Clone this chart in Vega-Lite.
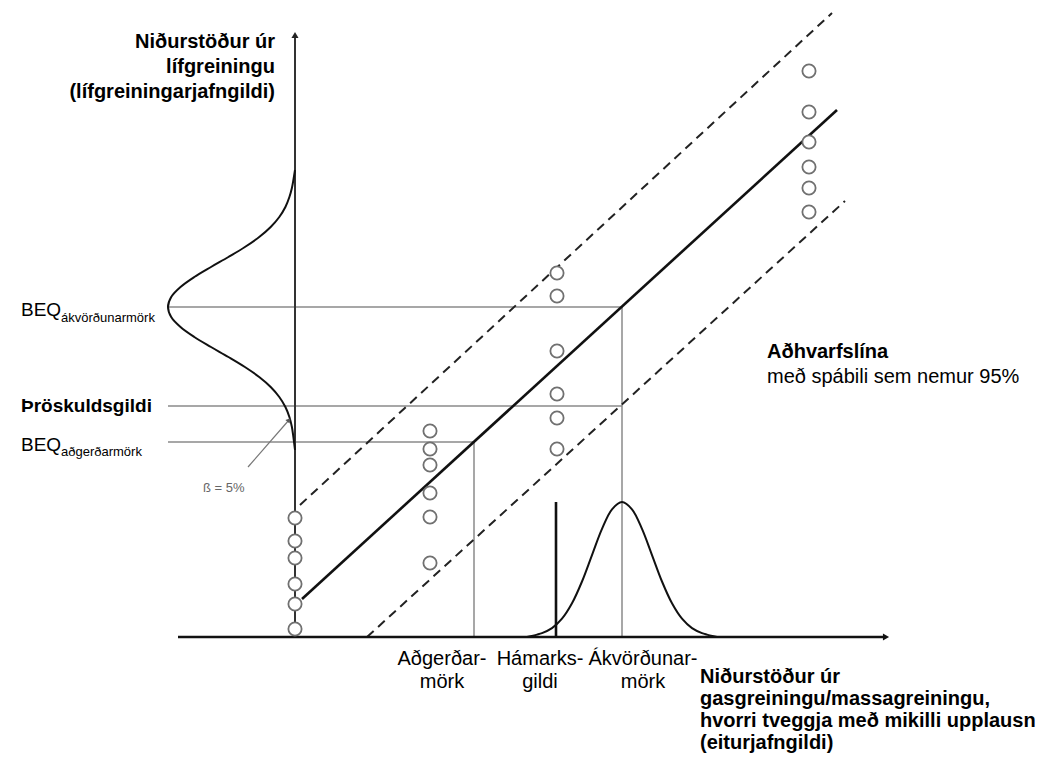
{
  "$schema": "https://vega.github.io/schema/vega-lite/v6.json",
  "width": 1063,
  "height": 758,
  "autosize": {"type": "fit", "contains": "padding"},
  "padding": 0,
  "background": "white",
  "config": {"view": {"stroke": null}, "text": {"font": "Liberation Sans"}},
  "encoding": {
    "x": {"field": "x", "type": "quantitative", "scale": {"domain": [0, 1063], "nice": false, "zero": false}, "axis": null},
    "y": {"field": "y", "type": "quantitative", "scale": {"domain": [0, 758], "reverse": true, "nice": false, "zero": false}, "axis": null}
  },
  "layer": [
    {
      "data": {"values": [
        {"x": 168, "y": 307, "x2": 622, "y2": 307},
        {"x": 168, "y": 406, "x2": 622, "y2": 406},
        {"x": 168, "y": 442, "x2": 474, "y2": 442},
        {"x": 622, "y": 307, "x2": 622, "y2": 637},
        {"x": 474, "y": 442, "x2": 474, "y2": 637}
      ]},
      "mark": {"type": "rule", "color": "#8a8a8a", "strokeWidth": 1.5},
      "encoding": {"x2": {"field": "x2"}, "y2": {"field": "y2"}}
    },
    {
      "data": {"values": [{"x": 248, "y": 467, "x2": 289, "y2": 420}]},
      "mark": {"type": "rule", "color": "#777777", "strokeWidth": 1.2},
      "encoding": {"x2": {"field": "x2"}, "y2": {"field": "y2"}}
    },
    {
      "data": {"values": [
        {"x": 300, "y": 505, "x2": 832, "y2": 13},
        {"x": 367, "y": 637, "x2": 845, "y2": 201}
      ]},
      "mark": {"type": "rule", "color": "#222222", "strokeWidth": 2, "strokeDash": [9, 6]},
      "encoding": {"x2": {"field": "x2"}, "y2": {"field": "y2"}}
    },
    {
      "data": {"values": [{"x": 295, "y": 637, "x2": 295, "y2": 36}]},
      "mark": {"type": "rule", "color": "#333333", "strokeWidth": 2},
      "encoding": {"x2": {"field": "x2"}, "y2": {"field": "y2"}}
    },
    {
      "data": {"values": [
        {"x": 178, "y": 637, "x2": 884, "y2": 637},
        {"x": 302, "y": 599, "x2": 837, "y2": 110},
        {"x": 556, "y": 502, "x2": 556, "y2": 637}
      ]},
      "mark": {"type": "rule", "color": "#111111", "strokeWidth": 2.6},
      "encoding": {"x2": {"field": "x2"}, "y2": {"field": "y2"}}
    },
    {
      "data": {"values": [
        {"c": "L", "i": 0, "x": 295, "y": 170},
        {"c": "L", "i": 1, "x": 293.4, "y": 180},
        {"c": "L", "i": 2, "x": 291.9, "y": 188},
        {"c": "L", "i": 3, "x": 289.4, "y": 197},
        {"c": "L", "i": 4, "x": 285.4, "y": 207},
        {"c": "L", "i": 5, "x": 279.3, "y": 217},
        {"c": "L", "i": 6, "x": 270.7, "y": 227},
        {"c": "L", "i": 7, "x": 259.2, "y": 237},
        {"c": "L", "i": 8, "x": 244.9, "y": 247},
        {"c": "L", "i": 9, "x": 228.4, "y": 257},
        {"c": "L", "i": 10, "x": 211.0, "y": 267},
        {"c": "L", "i": 11, "x": 194.3, "y": 277},
        {"c": "L", "i": 12, "x": 180.5, "y": 287},
        {"c": "L", "i": 13, "x": 171.2, "y": 297},
        {"c": "L", "i": 14, "x": 168, "y": 307},
        {"c": "L", "i": 15, "x": 171.2, "y": 317},
        {"c": "L", "i": 16, "x": 180.5, "y": 327},
        {"c": "L", "i": 17, "x": 194.3, "y": 337},
        {"c": "L", "i": 18, "x": 211.0, "y": 347},
        {"c": "L", "i": 19, "x": 228.4, "y": 357},
        {"c": "L", "i": 20, "x": 244.9, "y": 367},
        {"c": "L", "i": 21, "x": 259.2, "y": 377},
        {"c": "L", "i": 22, "x": 270.7, "y": 387},
        {"c": "L", "i": 23, "x": 279.3, "y": 397},
        {"c": "L", "i": 24, "x": 285.4, "y": 407},
        {"c": "L", "i": 25, "x": 289.4, "y": 417},
        {"c": "L", "i": 26, "x": 291.9, "y": 427},
        {"c": "L", "i": 27, "x": 293.4, "y": 437},
        {"c": "L", "i": 28, "x": 295, "y": 450},
        {"c": "B", "i": 0, "x": 527, "y": 637},
        {"c": "B", "i": 1, "x": 537, "y": 634.6},
        {"c": "B", "i": 2, "x": 542, "y": 633.1},
        {"c": "B", "i": 3, "x": 552, "y": 628.1},
        {"c": "B", "i": 4, "x": 562, "y": 618.7},
        {"c": "B", "i": 5, "x": 572, "y": 603.3},
        {"c": "B", "i": 6, "x": 582, "y": 581.5},
        {"c": "B", "i": 7, "x": 592, "y": 555.1},
        {"c": "B", "i": 8, "x": 602, "y": 528.9},
        {"c": "B", "i": 9, "x": 612, "y": 509.3},
        {"c": "B", "i": 10, "x": 622, "y": 502},
        {"c": "B", "i": 11, "x": 632, "y": 509.3},
        {"c": "B", "i": 12, "x": 642, "y": 528.9},
        {"c": "B", "i": 13, "x": 652, "y": 555.1},
        {"c": "B", "i": 14, "x": 662, "y": 581.5},
        {"c": "B", "i": 15, "x": 672, "y": 603.3},
        {"c": "B", "i": 16, "x": 682, "y": 618.7},
        {"c": "B", "i": 17, "x": 692, "y": 628.1},
        {"c": "B", "i": 18, "x": 702, "y": 633.1},
        {"c": "B", "i": 19, "x": 707, "y": 634.6},
        {"c": "B", "i": 20, "x": 717, "y": 637}
      ]},
      "mark": {"type": "line", "interpolate": "catmull-rom", "color": "#111111", "strokeWidth": 2},
      "encoding": {"detail": {"field": "c"}, "order": {"field": "i", "type": "quantitative"}}
    },
    {
      "data": {"values": [{"x": 295, "y": 35}]},
      "mark": {"type": "point", "shape": "triangle-up", "filled": true, "color": "#222222", "size": 50, "opacity": 1}
    },
    {
      "data": {"values": [{"x": 886, "y": 637}]},
      "mark": {"type": "point", "shape": "triangle-right", "filled": true, "color": "#111111", "size": 50, "opacity": 1}
    },
    {
      "data": {"values": [{"x": 289, "y": 420}]},
      "mark": {"type": "point", "shape": "triangle-up", "filled": true, "color": "#555555", "size": 30, "angle": 41, "opacity": 1}
    },
    {
      "data": {"values": [
        {"x": 295, "y": 518}, {"x": 295, "y": 541}, {"x": 295, "y": 558}, {"x": 295, "y": 584}, {"x": 295, "y": 604}, {"x": 295, "y": 629},
        {"x": 430, "y": 431}, {"x": 430, "y": 449}, {"x": 430, "y": 465}, {"x": 430, "y": 493}, {"x": 430, "y": 517}, {"x": 430, "y": 563},
        {"x": 557, "y": 273}, {"x": 557, "y": 296}, {"x": 557, "y": 351}, {"x": 557, "y": 394}, {"x": 557, "y": 418}, {"x": 557, "y": 449},
        {"x": 809, "y": 71}, {"x": 809, "y": 112}, {"x": 809, "y": 142}, {"x": 809, "y": 167}, {"x": 809, "y": 188}, {"x": 809, "y": 212}
      ]},
      "mark": {"type": "point", "shape": "circle", "filled": true, "fill": "white", "stroke": "#707070", "strokeWidth": 1.8, "size": 175, "opacity": 1, "fillOpacity": 1}
    },
    {
      "data": {"values": [
        {"x": 275, "y": 48, "t": "Niðurstöður úr"},
        {"x": 275, "y": 73, "t": "lífgreiningu"},
        {"x": 275, "y": 98, "t": "(lífgreiningarjafngildi)"}
      ]},
      "mark": {"type": "text", "align": "right", "baseline": "alphabetic", "fontSize": 20, "fontWeight": "bold", "color": "#000000"},
      "encoding": {"text": {"field": "t"}}
    },
    {
      "data": {"values": [
        {"x": 767, "y": 358, "t": "Aðhvarfslína"},
        {"x": 700, "y": 683, "t": "Niðurstöður úr"},
        {"x": 700, "y": 705, "t": "gasgreiningu/massagreiningu,"},
        {"x": 700, "y": 727, "t": "hvorri tveggja með mikilli upplausn"},
        {"x": 700, "y": 749, "t": "(eiturjafngildi)"}
      ]},
      "mark": {"type": "text", "align": "left", "baseline": "alphabetic", "fontSize": 20, "fontWeight": "bold", "color": "#000000"},
      "encoding": {"text": {"field": "t"}}
    },
    {
      "data": {"values": [
        {"x": 21, "y": 412, "t": "Þröskuldsgildi"}
      ]},
      "mark": {"type": "text", "align": "left", "baseline": "alphabetic", "fontSize": 19, "fontWeight": "bold", "color": "#000000"},
      "encoding": {"text": {"field": "t"}}
    },
    {
      "data": {"values": [
        {"x": 767, "y": 383, "t": "með spábili sem nemur 95%"}
      ]},
      "mark": {"type": "text", "align": "left", "baseline": "alphabetic", "fontSize": 20, "color": "#000000"},
      "encoding": {"text": {"field": "t"}}
    },
    {
      "data": {"values": [
        {"x": 442, "y": 665, "t": "Aðgerðar-"},
        {"x": 442, "y": 688, "t": "mörk"},
        {"x": 540, "y": 665, "t": "Hámarks-"},
        {"x": 540, "y": 688, "t": "gildi"},
        {"x": 643, "y": 665, "t": "Ákvörðunar-"},
        {"x": 643, "y": 688, "t": "mörk"}
      ]},
      "mark": {"type": "text", "align": "center", "baseline": "alphabetic", "fontSize": 20, "color": "#000000"},
      "encoding": {"text": {"field": "t"}}
    },
    {
      "data": {"values": [
        {"x": 21, "y": 316, "t": "BEQ"},
        {"x": 21, "y": 451, "t": "BEQ"}
      ]},
      "mark": {"type": "text", "align": "left", "baseline": "alphabetic", "fontSize": 19, "color": "#000000"},
      "encoding": {"text": {"field": "t"}}
    },
    {
      "data": {"values": [
        {"x": 61, "y": 322, "t": "ákvörðunarmörk"},
        {"x": 61, "y": 456, "t": "aðgerðarmörk"}
      ]},
      "mark": {"type": "text", "align": "left", "baseline": "alphabetic", "fontSize": 13, "color": "#000000"},
      "encoding": {"text": {"field": "t"}}
    },
    {
      "data": {"values": [
        {"x": 203, "y": 492, "t": "ß = 5%"}
      ]},
      "mark": {"type": "text", "align": "left", "baseline": "alphabetic", "fontSize": 13, "color": "#666666"},
      "encoding": {"text": {"field": "t"}}
    }
  ]
}
